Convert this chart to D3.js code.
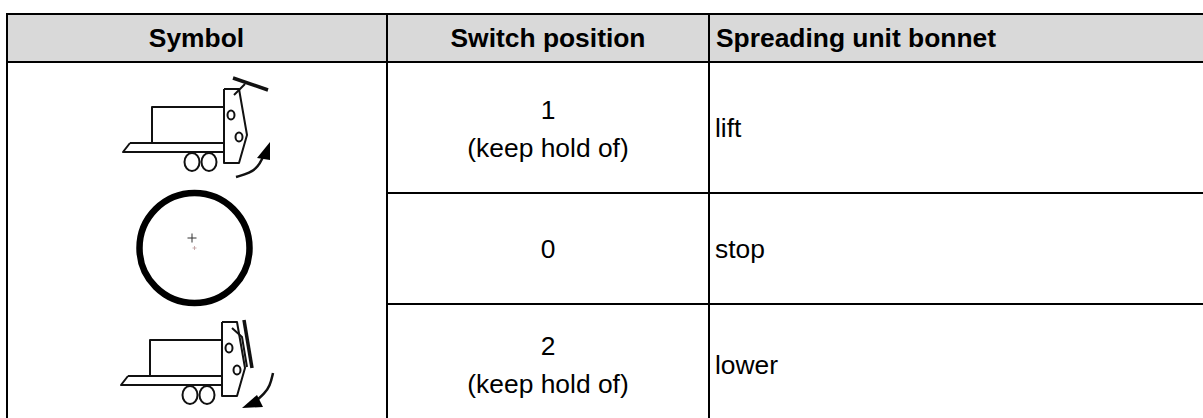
<!DOCTYPE html>
<html>
<head>
<meta charset="utf-8">
<script src="https://cdn.jsdelivr.net/npm/d3@7"></script>
<style>
    html, body { margin: 0; padding: 0; background: #fff; overflow: hidden; }
    text { font-family: "Liberation Sans", Arial, sans-serif; fill: #000; }
</style>
</head>
<body>
<svg id="chart" width="1203" height="418"></svg>
<script>
const headers = ['Symbol', 'Switch position', 'Spreading unit bonnet'];
const positions = [['1', '(keep hold of)'], ['0'], ['2', '(keep hold of)']];
const actions = ['lift', 'stop', 'lower'];

// table layout: the last row runs past the bottom of the picture
const rowEdges = [62, 193, 304, 424];
const colEdges = [7, 387, 709];

// pictogram outlines, in pixels from the icon's own origin
const cabin = [[0, 36], [0, 0], [72, 0]];
const deck = [[-22, 36], [72, 36]];
const deckFront = [[-22, 36], [-29, 45], [72, 45]];
const plate = [[72, -18], [72, 56], [87, 56], [95, 28], [87, -18], [72, -18]];

const svg = d3.select('#chart');
const line = d3.line();
const curve = d3.line().curve(d3.curveBasis);
const fontSize = '26.4px';

// ---- Header
svg.append('rect')
    .attr('x', 7).attr('y', 14).attr('width', 1196).attr('height', 48)
    .attr('fill', '#d9d9d9');

const headerG = svg.append('g').attr('font-weight', 'bold').attr('font-size', fontSize);
headerG.append('text').attr('x', 196.5).attr('y', 47).attr('text-anchor', 'middle').text(headers[0]);
headerG.append('text').attr('x', 548).attr('y', 47).attr('text-anchor', 'middle').text(headers[1]);
headerG.append('text').attr('x', 716).attr('y', 47).text(headers[2]);

// ---- Body text
const body = svg.append('g').attr('font-size', fontSize);
positions.forEach((lines, i) => {
    const mid = (rowEdges[i] + rowEdges[i + 1]) / 2;
    lines.forEach((t, j) => {
        body.append('text')
            .attr('x', 548)
            .attr('y', lines.length === 2 ? mid - 9 + j * 38 : mid + 9)
            .attr('text-anchor', 'middle')
            .text(t);
    });
    body.append('text').attr('x', 715).attr('y', mid + 9.5).text(actions[i]);
});

// ---- Grid
const grid = svg.append('g').attr('stroke', '#000').attr('stroke-width', 2);
[14, 62].forEach(y => {
    grid.append('line').attr('x1', 6).attr('x2', 1203).attr('y1', y).attr('y2', y);
});
colEdges.forEach(x => {
    grid.append('line').attr('x1', x).attr('x2', x).attr('y1', 14).attr('y2', 418);
});
rowEdges.slice(1, 3).forEach(y => {
    grid.append('line').attr('x1', 387).attr('x2', 1203).attr('y1', y).attr('y2', y);
});

// ---- Icons
function drawTrailer(g) {
    const outline = g.append('g')
        .attr('fill', 'none').attr('stroke', '#111').attr('stroke-width', 2)
        .attr('stroke-linejoin', 'round');
    outline.append('path').attr('d', line(cabin));
    outline.append('path').attr('d', line(deck));
    outline.append('path').attr('d', line(deckFront));
    outline.append('path').attr('d', line(plate));
    outline.append('ellipse').attr('cx', 79).attr('cy', 8).attr('rx', 3.5).attr('ry', 4.5);
    outline.append('ellipse').attr('cx', 87).attr('cy', 30).attr('rx', 3.5).attr('ry', 4.5);
    outline.append('ellipse').attr('cx', 40).attr('cy', 55).attr('rx', 7.5).attr('ry', 9);
    outline.append('ellipse').attr('cx', 57).attr('cy', 55).attr('rx', 7.5).attr('ry', 9);
    return outline;
}

const up = svg.append('g').attr('transform', 'translate(152,107)');
const upLines = drawTrailer(up);
upLines.append('path').attr('d', line([[82, -12], [93, -23]]));
upLines.append('path').attr('d', line([[81, -29], [116, -17]])).attr('stroke-width', 3.5);
upLines.append('path').attr('d', curve([[84, 70], [98, 66], [106, 60], [111, 50]])).attr('stroke-width', 2.5);
up.append('path').attr('d', line([[118, 35], [105, 51], [118, 53]])).attr('fill', '#000');

const stop = svg.append('g').attr('transform', 'translate(194.5,248)');
stop.append('circle').attr('r', 55)
    .attr('fill', 'none').attr('stroke', '#000').attr('stroke-width', 6.5);
stop.append('path').attr('d', 'M-7,-10H2M-2.500,-14.500V-5.500').attr('stroke', '#333').attr('stroke-width', 1);
stop.append('path').attr('d', 'M-2,0H2M0,-2V2').attr('stroke', '#b99').attr('stroke-width', 0.8);

const down = svg.append('g').attr('transform', 'translate(150,340)');
const downLines = drawTrailer(down);
downLines.append('path').attr('d', line([[82, -12], [92, -3], [97, 27]]));
downLines.append('path').attr('d', line([[94, -20], [102, 28]])).attr('stroke-width', 3.5);
downLines.append('path').attr('d', curve([[123, 33], [120, 46], [114, 54], [107, 60]])).attr('stroke-width', 2.5);
down.append('path').attr('d', line([[92, 68], [107, 55], [113, 67]])).attr('fill', '#000');
</script>
</body>
</html>
